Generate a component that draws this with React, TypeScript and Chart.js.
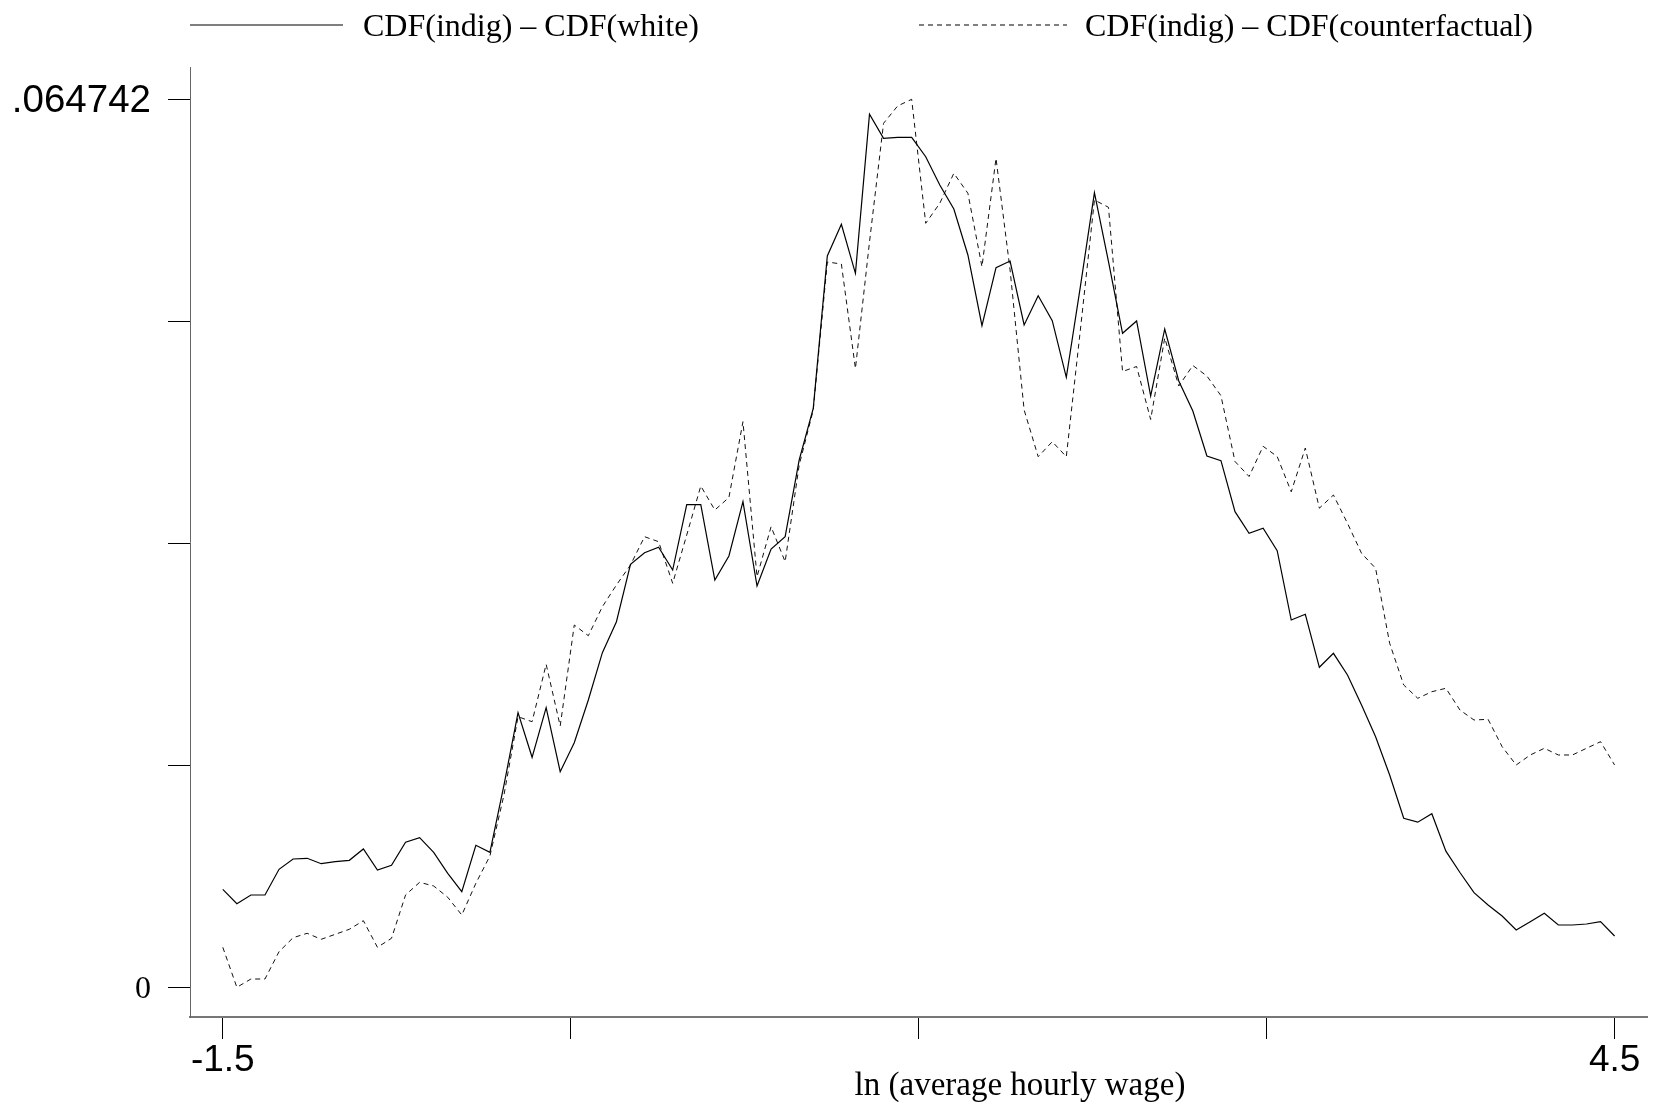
import { useEffect, useRef } from "react";
import { Chart, registerables } from "chart.js";

Chart.register(...registerables);

// Evaluation grid for ln(average hourly wage): 100 points spanning -1.5 .. 4.5
const X_FIRST = -1.5;
const X_LAST = 4.5;
const N_POINTS = 100;
const lnWage = Array.from(
  { length: N_POINTS },
  (_, i) => X_FIRST + (i * (X_LAST - X_FIRST)) / (N_POINTS - 1)
);

// CDF(indig) - CDF(white)
const diffWhite = [
  0.007145, 0.006095, 0.006729, 0.006729, 0.008603, 0.009354, 0.009405, 0.009011, 0.009157, 0.009259,
  0.010083, 0.008552, 0.008895, 0.010572, 0.010907, 0.009843, 0.008312, 0.00697, 0.010353, 0.009843,
  0.014749, 0.020021, 0.016769, 0.020385, 0.015719, 0.017833, 0.020946, 0.024395, 0.026655, 0.03084,
  0.031686, 0.03208, 0.030424, 0.035185, 0.035185, 0.029695, 0.031445, 0.035404, 0.029258, 0.031956,
  0.032852, 0.038444, 0.042214, 0.053318, 0.055629, 0.052056, 0.063649, 0.061899, 0.061972, 0.061972,
  0.060557, 0.058494, 0.056744, 0.053391, 0.048236, 0.052465, 0.052952, 0.048287, 0.050423, 0.0486,
  0.044474, 0.051079, 0.057933, 0.052902, 0.047682, 0.048579, 0.043111, 0.047995, 0.044204, 0.042017,
  0.038736, 0.038393, 0.034675, 0.0331, 0.033465, 0.031832, 0.026779, 0.027195, 0.023331, 0.024351,
  0.022769, 0.020582, 0.018271, 0.015478, 0.012321, 0.012037, 0.012657, 0.009923, 0.00837, 0.006897,
  0.006, 0.005198, 0.004178, 0.004783, 0.005395, 0.004542, 0.004542, 0.004615, 0.004783, 0.00374,
];

// CDF(indig) - CDF(counterfactual)
const diffCounterfactual = [
  0.002916, 0.0, 0.000605, 0.000605, 0.002596, 0.003616, 0.003937, 0.0035, 0.003864, 0.004229,
  0.004856, 0.002916, 0.003572, 0.006729, 0.007655, 0.007386, 0.006562, 0.005271, 0.007582, 0.009573,
  0.01402, 0.019729, 0.019364, 0.023549, 0.019051, 0.026414, 0.025634, 0.027749, 0.029331, 0.030789,
  0.032852, 0.032488, 0.029455, 0.032976, 0.036549, 0.034799, 0.03571, 0.041237, 0.029936, 0.033582,
  0.03103, 0.03808, 0.04209, 0.05288, 0.052735, 0.045116, 0.054338, 0.062993, 0.064254, 0.064742,
  0.055702, 0.05716, 0.059347, 0.057889, 0.052538, 0.060441, 0.052297, 0.04209, 0.038685, 0.039779,
  0.038685, 0.047922, 0.057401, 0.056868, 0.044897, 0.045261, 0.041397, 0.047339, 0.04384, 0.045334,
  0.044568, 0.043132, 0.038335, 0.037241, 0.039443, 0.038699, 0.036126, 0.039319, 0.03493, 0.035893,
  0.033829, 0.031642, 0.030548, 0.02508, 0.02204, 0.02107, 0.021551, 0.021799, 0.020217, 0.019488,
  0.019539, 0.017542, 0.016207, 0.016937, 0.017425, 0.016937, 0.016937, 0.017425, 0.017906, 0.016207,
];

const legendLabels = ["CDF(indig) – CDF(white)", "CDF(indig) – CDF(counterfactual)"];
const xTitle = "ln (average hourly wage)";

const xTicks = [-1.5, 0, 1.5, 3, 4.5];
const xTickLabels = ["-1.5", "", "", "", "4.5"];

const Y_TOP = 0.064742;
const yTicks = [0, Y_TOP / 4, Y_TOP / 2, (3 * Y_TOP) / 4, Y_TOP];
const yTickLabels = ["0", "", "", "", ".064742"];

const SANS = "'Liberation Sans', Arial, Helvetica, sans-serif";
const SERIF = "'Liberation Serif', 'Times New Roman', serif";
const DASH = [5, 4];

// Legend keys and the x-axis title, drawn on top of the chart
const overlayPlugin = {
  id: "overlay",
  afterDraw(chart: any) {
    const ctx = chart.ctx as CanvasRenderingContext2D;
    ctx.save();
    ctx.strokeStyle = "#000";

    // solid key
    ctx.lineWidth = 1.2;
    ctx.setLineDash([]);
    ctx.beginPath();
    ctx.moveTo(190, 25);
    ctx.lineTo(343, 25);
    ctx.stroke();

    // dashed key
    ctx.lineWidth = 1;
    ctx.setLineDash(DASH);
    ctx.beginPath();
    ctx.moveTo(919, 25);
    ctx.lineTo(1067, 25);
    ctx.stroke();
    ctx.setLineDash([]);

    ctx.fillStyle = "#000";
    ctx.font = `32px ${SERIF}`;
    ctx.textBaseline = "alphabetic";
    ctx.textAlign = "left";
    ctx.fillText(legendLabels[0], 363, 36);
    ctx.fillText(legendLabels[1], 1085, 36);

    ctx.font = `33px ${SERIF}`;
    ctx.textAlign = "center";
    ctx.fillText(xTitle, 1020, 1095);
    ctx.restore();
  },
};

export default function App() {
  const canvasRef = useRef<HTMLCanvasElement | null>(null);

  useEffect(() => {
    const canvas = canvasRef.current;
    if (!canvas) return;

    const chart = new Chart(canvas, {
      type: "line",
      data: {
        datasets: [
          {
            label: legendLabels[0],
            data: lnWage.map((x, i) => ({ x, y: diffWhite[i] })),
            borderColor: "#000",
            borderWidth: 1.2,
            pointRadius: 0,
            tension: 0,
            fill: false,
          },
          {
            label: legendLabels[1],
            data: lnWage.map((x, i) => ({ x, y: diffCounterfactual[i] })),
            borderColor: "#111",
            borderWidth: 1,
            borderDash: DASH,
            pointRadius: 0,
            tension: 0,
            fill: false,
          },
        ],
      },
      options: {
        animation: false,
        responsive: false,
        devicePixelRatio: 1,
        layout: { padding: { top: 67, right: 9, left: 0, bottom: 0 } },
        plugins: {
          legend: { display: false },
          tooltip: { enabled: false },
        },
        scales: {
          x: {
            type: "linear",
            min: -1.6414,
            max: 4.6397,
            afterBuildTicks: (scale: any) => {
              scale.ticks = xTicks.map((value) => ({ value }));
            },
            afterFit: (scale: any) => {
              scale.height = 85;
            },
            grid: {
              display: true,
              drawOnChartArea: false,
              drawTicks: true,
              tickLength: 22,
              tickColor: "#000",
              tickWidth: 1,
            },
            border: { display: true, color: "#777", width: 2 },
            ticks: {
              autoSkip: false,
              maxRotation: 0,
              minRotation: 0,
              padding: 0,
              color: "#000",
              font: { family: SANS, size: 37 },
              callback: (_v: any, i: number) => xTickLabels[i],
            },
          },
          y: {
            type: "linear",
            min: -0.0021654,
            max: 0.0670969,
            afterBuildTicks: (scale: any) => {
              scale.ticks = yTicks.map((value) => ({ value }));
            },
            afterFit: (scale: any) => {
              scale.width = 190;
            },
            grid: {
              display: true,
              drawOnChartArea: false,
              drawTicks: true,
              tickLength: 22,
              tickColor: "#000",
              tickWidth: 1,
            },
            border: { display: true, color: "#666", width: 1 },
            ticks: {
              autoSkip: false,
              padding: 17,
              labelOffset: 2,
              color: "#000",
              font: (c: any) =>
                c.index === 0 ? { family: SERIF, size: 32 } : { family: SANS, size: 38.5 },
              callback: (_v: any, i: number) => yTickLabels[i],
            },
          },
        },
      },
      plugins: [overlayPlugin],
    });

    return () => chart.destroy();
  }, []);

  return (
    <div style={{ position: "absolute", left: 0, top: 0, width: 1656, height: 1102, background: "#fff" }}>
      <canvas ref={canvasRef} width={1656} height={1102} style={{ display: "block" }} />
    </div>
  );
}
